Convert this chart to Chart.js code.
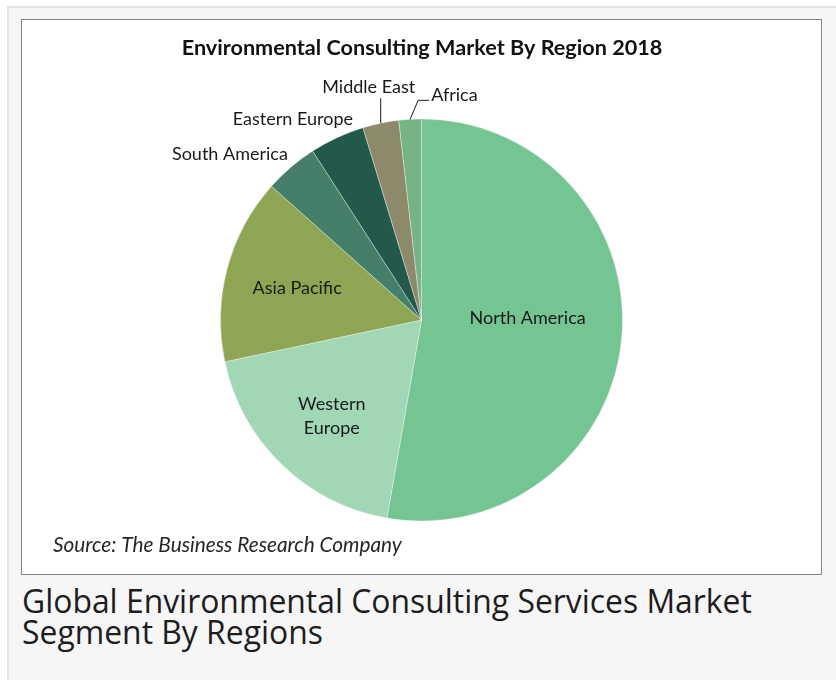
<!DOCTYPE html>
<html>
<head>
<meta charset="utf-8">
<script src="https://cdn.jsdelivr.net/npm/chart.js@4"></script>
<style>
  html, body { margin: 0; padding: 0; background: #ffffff; width: 836px; height: 680px; overflow: hidden; }
  #outer { position: absolute; left: 7px; top: 6px; width: 840px; height: 700px; background: #f6f6f6; border: 2px solid #e4e4e4; box-sizing: border-box; }
  #box { position: absolute; left: 21px; top: 19px; width: 801px; height: 556px; background: #ffffff; border: 1px solid #858585; box-sizing: border-box; }
  #wrap { position: absolute; left: 0; top: 0; width: 799px; height: 554px; }
  #caption { position: absolute; left: 22px; top: 585px; font-family: "Open Sans", sans-serif; font-size: 29px; line-height: 31px; color: #1d1d1d; white-space: nowrap; }
  #probe { position: absolute; left: 0; top: 0; visibility: hidden; white-space: nowrap; font-family: "Open Sans", sans-serif; font-size: 29px; }
</style>
</head>
<body>
<div id="outer"></div>
<div id="box"><div id="wrap"><canvas id="c"></canvas></div></div>
<div id="caption"><span id="cap1">Global Environmental Consulting Services Market</span><br><span>Segment By Regions</span></div>
<script>
// ---- data ----
const categories = ["North America", "Western Europe", "Asia Pacific", "South America", "Eastern Europe", "Middle East", "Africa"];
const shares = [52.7, 18.9, 14.9, 4.3, 4.4, 2.9, 1.8];
const sliceColors = ["#74c494", "#a1d7b5", "#8ea653", "#457f69", "#22594b", "#8d8a6c", "#76b385"];
const chartTitle = "Environmental Consulting Market By Region 2018";
const sourceNote = "Source: The Business Research Company";

// ---- label layout (style, not data) ----
const labelLayout = {
  "North America":  { inside: true, r: 0.53, dx: 0, dy: -11, lines: ["North America"] },
  "Western Europe": { inside: true, r: 0.65, dx: 1, dy: 2, lines: ["Western", "Europe"] },
  "Asia Pacific":   { inside: true, r: 0.64, dx: 0, dy: 1, lines: ["Asia Pacific"] },
  "South America":  { inside: false, dx: -3, dy: -13, align: "right" },
  "Eastern Europe": { inside: false, dx: 16, dy: -18, align: "right" },
  "Middle East":    { inside: false, dx: -12, dy: -36, align: "center", leader: [[0, -25]] },
  "Africa":         { inside: false, dx: 21, dy: -24, align: "left", leader: [[8, -19], [19, -19]] }
};
const textFit = { title: 481, source: 349, caption: 730 };

function fitSize(ctx, text, prefix, family, target, base) {
  ctx.font = prefix + " " + base + "px " + family;
  const w = ctx.measureText(text).width;
  return base * target / w;
}

const labelPlugin = {
  id: "pieLabels",
  afterDraw(chart) {
    const ctx = chart.ctx;
    const meta = chart.getDatasetMeta(0);
    ctx.save();
    // title
    ctx.fillStyle = "#111111";
    const ts = fitSize(ctx, chartTitle, "bold", "Lato, sans-serif", textFit.title, 20);
    ctx.font = "bold " + ts + "px Lato, sans-serif";
    ctx.textAlign = "center";
    ctx.textBaseline = "middle";
    ctx.fillText(chartTitle, 400, 28);
    // source
    const ss = fitSize(ctx, sourceNote, "italic", "Lato, sans-serif", textFit.source, 18);
    ctx.font = "italic " + ss + "px Lato, sans-serif";
    ctx.fillStyle = "#262626";
    ctx.textAlign = "left";
    ctx.fillText(sourceNote, 31, 525);

    ctx.font = "18px Lato, sans-serif";
    ctx.fillStyle = "#1a1a1a";
    meta.data.forEach((arc, i) => {
      const p = arc.getProps(["x", "y", "startAngle", "endAngle", "outerRadius"], true);
      const mid = (p.startAngle + p.endAngle) / 2;
      const L = labelLayout[categories[i]];
      if (L.inside) {
        const cx = p.x + Math.cos(mid) * p.outerRadius * L.r + L.dx;
        const cy = p.y + Math.sin(mid) * p.outerRadius * L.r + L.dy;
        ctx.textAlign = "center";
        const n = L.lines.length;
        L.lines.forEach((t, k) => ctx.fillText(t, cx, cy + (k - (n - 1) / 2) * 24));
      } else {
        const ex = p.x + Math.cos(mid) * p.outerRadius;
        const ey = p.y + Math.sin(mid) * p.outerRadius;
        if (L.leader) {
          ctx.strokeStyle = "#1a1a1a";
          ctx.lineWidth = 1;
          ctx.beginPath();
          ctx.moveTo(ex, ey);
          L.leader.forEach(([lx, ly]) => ctx.lineTo(ex + lx, ey + ly));
          ctx.stroke();
        }
        ctx.textAlign = L.align;
        ctx.fillText(categories[i], ex + L.dx, ey + L.dy);
      }
    });
    ctx.restore();
  }
};

// caption sizing to match reference width
(function () {
  const cap1 = document.getElementById("cap1");
  const cap = document.getElementById("caption");
  const w = cap1.getBoundingClientRect().width;
  const size = 29 * textFit.caption / w;
  cap.style.fontSize = size.toFixed(2) + "px";
  cap.style.lineHeight = "31px";
})();

new Chart(document.getElementById("c"), {
  type: "pie",
  data: {
    labels: categories,
    datasets: [{
      data: shares,
      backgroundColor: sliceColors,
      borderColor: "rgba(255,255,255,0.35)",
      borderWidth: 1,
      radius: 201
    }]
  },
  options: {
    responsive: true,
    maintainAspectRatio: false,
    animation: false,
    layout: { padding: { top: 46, bottom: 0, left: 0, right: 0 } },
    plugins: { legend: { display: false }, tooltip: { enabled: false }, title: { display: false } }
  },
  plugins: [labelPlugin]
});
</script>
</body>
</html>
